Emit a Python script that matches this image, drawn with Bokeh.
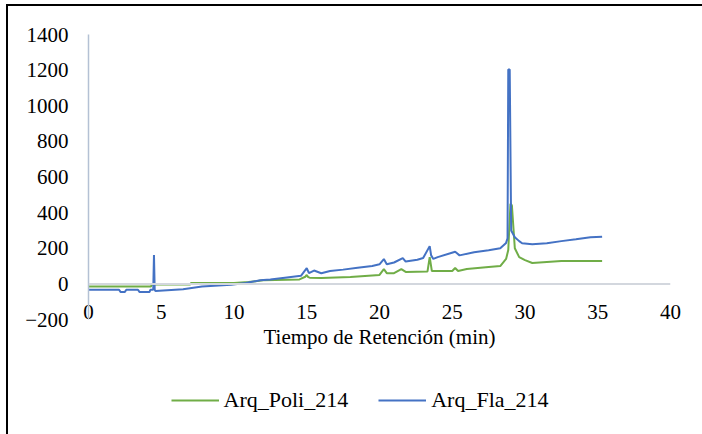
from bokeh.plotting import figure
from bokeh.models import Legend, LegendItem, FixedTicker, Range1d, Span
from bokeh.layouts import column
from bokeh.embed import file_html
from bokeh.resources import INLINE

# Arq_Poli_214 (green)
t_poli = [0, 4.3, 4.35, 7.0, 7.05, 10.0, 11.0, 12.0, 14.5, 14.9, 15.0, 15.1, 15.2, 16.0, 18.0,
          20.0, 20.3, 20.5, 21.0, 21.5, 21.8, 23.3, 23.45, 23.6, 25.0, 25.2, 25.4, 26.0, 27.5,
          28.3, 28.7, 28.85, 29.0, 29.1, 29.3, 29.6, 30.0, 30.5, 32.5, 35.3]
poli = [-15, -15, -3, -3, 5, 5, 10, 20, 25, 40, 50, 38, 35, 33, 39,
        50, 83, 60, 60, 83, 67, 70, 150, 72, 72, 89, 72, 83, 95,
        100, 140, 190, 450, 440, 200, 150, 133, 117, 128, 128]

# Arq_Fla_214 (blue)
t_fla = [0, 2.1, 2.2, 2.5, 2.6, 3.4, 3.5, 4.2, 4.25, 4.45, 4.5, 4.55, 4.6, 6.5, 7.8, 9.8,
         10.8, 11.8, 12.5, 13.5, 14.6, 15.0, 15.15, 15.5, 16.0, 16.6, 17.5, 18.5, 19.5, 20.0,
         20.3, 20.5, 21.0, 21.6, 21.8, 22.6, 23.0, 23.45, 23.55, 23.7, 24.0, 25.2, 25.5, 26.5,
         27.5, 28.3, 28.7, 28.8, 28.85, 28.95, 29.05, 29.3, 29.6, 29.8, 30.5, 31.5, 32.5, 33.5,
         34.5, 35.3]
fla = [-33, -33, -45, -45, -33, -33, -45, -45, -33, -33, 162, -33, -40, -30, -15, -5,
       5, 20, 25, 35, 45, 88, 60, 75, 60, 72, 80, 90, 100, 110,
       139, 110, 120, 145, 125, 135, 145, 212, 160, 140, 150, 180, 160, 178,
       189, 200, 230, 256, 1203, 1203, 300, 262, 240, 228, 223, 228, 240, 250,
       262, 265]

x_ticks = [0, 5, 10, 15, 20, 25, 30, 35, 40]
y_ticks = [-200, 0, 200, 400, 600, 800, 1000, 1200, 1400]
series_names = ["Arq_Poli_214", "Arq_Fla_214"]
series_colors = ["#70AD47", "#4472C4"]
series_t = [t_poli, t_fla]
series_y = [poli, fla]

FONT = "Liberation Serif"
FS = "21px"

p = figure(width=694, height=360, x_range=Range1d(0, 40), y_range=Range1d(-200, 1400),
           output_backend="svg", toolbar_location=None,
           min_border_left=80, min_border_right=32, min_border_top=28, min_border_bottom=47)
p.outline_line_color = None
p.xgrid.visible = False
p.ygrid.visible = False

# y axis
p.yaxis.ticker = FixedTicker(ticks=y_ticks)
p.yaxis.axis_line_color = "#B4C1D4"
p.yaxis.axis_line_width = 1.5
p.yaxis.major_tick_line_color = None
p.yaxis.minor_tick_line_color = None
p.yaxis.major_label_standoff = 14
p.yaxis.major_label_text_font = FONT
p.yaxis.major_label_text_font_size = FS
p.yaxis.major_label_text_color = "black"

# x axis: labels lifted up next to the zero line, title below
xa = p.xaxis[0]
xa.ticker = FixedTicker(ticks=x_ticks)
xa.axis_line_color = None
xa.major_tick_line_color = None
xa.minor_tick_line_color = None
xa.major_tick_out = 0
xa.major_label_standoff = -15
xa.major_label_text_font = FONT
xa.major_label_text_font_size = FS
xa.major_label_text_color = "black"
xa.axis_label = "Tiempo de Retención (min)"
xa.axis_label_standoff = 3
xa.axis_label_text_font = FONT
xa.axis_label_text_font_size = FS
xa.axis_label_text_font_style = "normal"
xa.axis_label_text_color = "black"

# horizontal axis line at y = 0
p.add_layout(Span(location=0, dimension="width", line_color="#D3D7DE", line_width=2))

for tt, yy, col in zip(series_t, series_y, series_colors):
    p.line(tt, yy, line_color=col, line_width=2)

# legend strip (same series, drawn off-view so only the legend keys show)
q = figure(width=655, height=68, x_range=Range1d(0, 1), y_range=Range1d(5000, 5001),
           output_backend="svg", toolbar_location=None,
           x_axis_location=None, y_axis_location=None, min_border=0)
q.outline_line_color = None
q.xgrid.visible = False
q.ygrid.visible = False
items = []
for name, tt, yy, col in zip(series_names, series_t, series_y, series_colors):
    r = q.line(tt, yy, line_color=col, line_width=2)
    items.append(LegendItem(label=name, renderers=[r]))
legend = Legend(items=items, orientation="horizontal", location="center")
legend.label_text_font = FONT
legend.label_text_font_size = "22px"
legend.label_text_color = "black"
legend.glyph_width = 48
legend.glyph_height = 20
legend.label_standoff = 5
legend.spacing = 30
legend.margin = 0
legend.padding = 5
legend.border_line_color = None
legend.background_fill_alpha = 0
q.add_layout(legend, "center")

layout = column(p, q, spacing=0,
                styles={"margin-left": "6px", "margin-top": "4px",
                        "border-left": "2px solid #000", "border-top": "2px solid #000"})

open("out.html", "w").write(file_html(layout, INLINE))
